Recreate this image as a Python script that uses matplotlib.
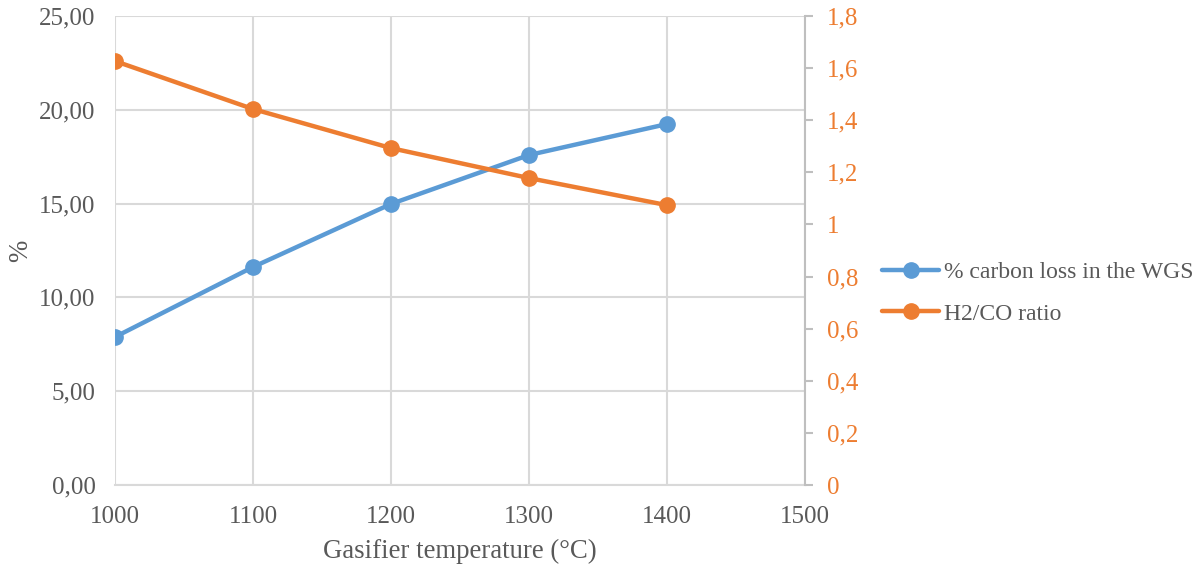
import matplotlib.pyplot as plt
from matplotlib.ticker import FuncFormatter, MultipleLocator

# gasifier temperature sweep
temperature = [1000, 1100, 1200, 1300, 1400]
carbon_loss = [7.89, 11.62, 14.98, 17.59, 19.24]
h2_co_ratio = [1.627, 1.443, 1.293, 1.178, 1.074]

blue = "#5B9BD5"
orange = "#ED7D31"
grey = "#595959"
grid = "#D9D9D9"

plt.rcParams["font.family"] = ["Liberation Serif", "DejaVu Serif"]

fig = plt.figure(figsize=(12.03, 5.69), dpi=100)
ax = fig.add_axes([115 / 1203, 1 - 485 / 569, 690 / 1203, 469 / 569])
ax2 = ax.twinx()

ax.plot(temperature, carbon_loss, color=blue, lw=3.2, marker="o", ms=11,
        label="% carbon loss in the WGS", solid_capstyle="round", zorder=3)
ax2.plot(temperature, h2_co_ratio, color=orange, lw=3.2, marker="o", ms=11,
         label="H2/CO ratio", solid_capstyle="round", zorder=3)

ax.set_xlim(1000, 1500)
ax.set_ylim(0, 25)
ax2.set_ylim(0, 1.8)
ax.xaxis.set_major_locator(MultipleLocator(100))
ax.yaxis.set_major_locator(MultipleLocator(5))
ax2.yaxis.set_major_locator(MultipleLocator(0.2))

ax.yaxis.set_major_formatter(FuncFormatter(lambda v, p: f"{v:.2f}".replace(".", ",")))
ax2.yaxis.set_major_formatter(FuncFormatter(
    lambda v, p: "0" if abs(v) < 1e-9 else ("1" if abs(v - 1) < 1e-9 else f"{v:.1f}".replace(".", ","))))

ax.grid(True, color=grid, lw=1.5)
ax.set_axisbelow(True)
for side in ["top", "right", "left"]:
    ax.spines[side].set_visible(False)
    ax2.spines[side].set_visible(False)
ax.spines["bottom"].set_color(grid)
ax.spines["bottom"].set_linewidth(1.5)
ax2.spines["bottom"].set_visible(False)
ax2.spines["right"].set_visible(True)
ax2.spines["right"].set_color("#BFBFBF")
ax2.spines["right"].set_linewidth(1.5)

ax.tick_params(axis="both", length=0, labelsize=18, labelcolor=grey)
ax.tick_params(axis="y", pad=14)
ax.tick_params(axis="x", pad=15)
ax2.tick_params(axis="y", length=6, width=1.5, color="#BFBFBF",
                labelsize=18, labelcolor=orange, pad=10)

ax.set_xlabel("Gasifier temperature (°C)", fontsize=19.3, color=grey, labelpad=8)
ax.set_ylabel("%", fontsize=19.3, color=grey, labelpad=4)

h1, l1 = ax.get_legend_handles_labels()
h2, l2 = ax2.get_legend_handles_labels()
fig.legend(h1 + h2, l1 + l2, loc="center left", bbox_to_anchor=(861 / 1203, 1 - 293 / 569),
           frameon=False, fontsize=17, labelcolor=grey, handlelength=2.4,
           handletextpad=0.2, labelspacing=0.85)

fig.savefig("out.png", dpi=100)
